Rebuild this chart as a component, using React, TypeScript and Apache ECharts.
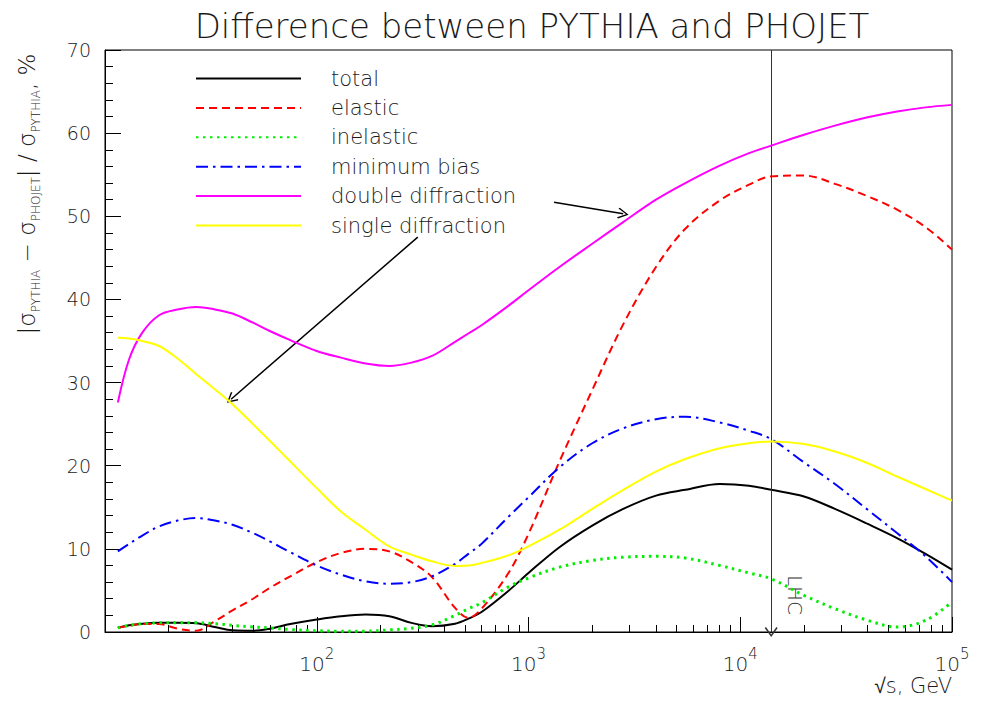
import React, { useEffect, useRef } from "react";
import * as echarts from "echarts";

// sqrt(s) in GeV
const energies = [11.5, 13, 15, 18, 22, 27, 33, 40, 50, 60, 75, 100, 130, 170, 220, 280, 350, 450, 520, 600, 800, 1000, 1400, 2000, 2800, 4000, 5500, 8000, 11000, 14000, 20000, 28000, 40000, 55000, 75000, 100000];

const total = [0.5, 0.8, 1.0, 1.1, 1.1, 1.05, 0.6, 0.2, 0.15, 0.4, 0.95, 1.5, 1.9, 2.1, 1.9, 1.1, 0.7, 1.0, 1.6, 2.4, 4.9, 7.1, 10.2, 12.8, 14.8, 16.4, 17.1, 17.8, 17.6, 17.1, 16.3, 14.8, 13.0, 11.3, 9.4, 7.5];
const elastic = [0.5, 0.75, 0.95, 0.95, 0.4, 0.15, 1.3, 2.6, 4.0, 5.3, 6.7, 8.4, 9.5, 10.0, 9.7, 8.4, 6.6, 2.9, 1.7, 2.8, 7.0, 11.8, 20.5, 29.1, 37.0, 43.9, 48.5, 51.9, 53.8, 54.8, 54.9, 53.9, 52.4, 50.8, 48.7, 46.0];
const inelastic = [0.5, 0.8, 1.0, 1.1, 1.1, 1.1, 1.0, 0.8, 0.6, 0.5, 0.3, 0.15, 0.1, 0.1, 0.25, 0.45, 0.85, 2.0, 2.8, 3.5, 5.4, 6.5, 7.8, 8.6, 9.0, 9.1, 8.9, 8.0, 7.1, 6.4, 4.4, 2.8, 1.4, 0.6, 1.4, 3.6];
const minimumBias = [9.7, 10.6, 11.6, 12.7, 13.4, 13.7, 13.4, 12.9, 11.9, 10.9, 9.6, 8.0, 6.9, 6.1, 5.8, 6.0, 6.7, 8.2, 9.4, 10.6, 13.8, 16.2, 19.8, 22.7, 24.5, 25.6, 25.9, 25.2, 24.2, 23.2, 20.4, 17.8, 14.7, 11.9, 9.1, 6.0];
const doubleDiffraction = [27.6, 32.8, 36.0, 38.1, 38.8, 39.1, 38.8, 38.3, 37.2, 36.2, 35.1, 33.8, 33.0, 32.3, 32.0, 32.4, 33.2, 34.9, 35.9, 36.9, 39.2, 41.1, 43.9, 46.7, 49.3, 52.0, 54.0, 56.1, 57.6, 58.5, 59.8, 60.9, 61.9, 62.6, 63.1, 63.4];
const singleDiffraction = [35.4, 35.3, 35.0, 34.4, 32.9, 31.0, 29.2, 27.4, 25.0, 23.0, 20.5, 17.3, 14.5, 12.3, 10.3, 9.3, 8.5, 7.95, 8.0, 8.3, 9.2, 10.3, 12.3, 14.8, 17.1, 19.3, 20.8, 22.1, 22.7, 22.9, 22.6, 21.7, 20.3, 18.7, 17.2, 15.8];

const seriesNames = ["total", "elastic", "inelastic", "minimum bias", "double diffraction", "single diffraction"];
const yTicks = { min: 0, max: 70, step: 10 };
const xRange = { min: 10, max: 100000 };

// annotations (data coordinates)
const lhcEnergy = 14000;
const arrowToDouble = [[1320, 51.7], [2800, 50.3]];
const arrowToSingle = [[300, 47.5], [39.4, 28.0]];

const FONT = "'DejaVu Sans', 'Noto Sans', sans-serif";
const WEIGHT = 200;
const INK = "#1a1a1a";
const chevron = "path://M5,0L10,9L9,10L5,2.4L1,10L0,9Z";

export default function App() {
  const ref = useRef<HTMLDivElement>(null);

  useEffect(() => {
    const chart = echarts.init(ref.current as HTMLDivElement, null, { renderer: "svg" });

    const values = [total, elastic, inelastic, minimumBias, doubleDiffraction, singleDiffraction];
    const colors = ["#000000", "#ff0000", "#00ee00", "#0000ff", "#ff00ff", "#ffff00"];
    const dashes: any[] = ["solid", [8, 5], [2.5, 4.5], [12, 5, 2.5, 5], "solid", "solid"];
    const widths = [2, 2, 3, 2, 2, 2];

    const series: any[] = values.map((vals, i) => ({
      name: seriesNames[i],
      type: "line",
      data: energies.map((e, k) => [e, vals[k]]),
      symbol: "none",
      smooth: 0.35,
      lineStyle: { color: colors[i], type: dashes[i], width: widths[i], cap: "butt" },
      itemStyle: { color: colors[i] },
      z: 2 + i,
    }));

    series[0].markLine = {
      silent: true,
      animation: false,
      symbolSize: [11, 11],
      label: { show: false },
      lineStyle: { color: "#000", type: "solid", width: 1.5 },
      emphasis: { disabled: true },
      data: [
        [
          { coord: [lhcEnergy, yTicks.max], symbol: "none", lineStyle: { color: "#333", width: 1, type: "solid" } },
          { coord: [lhcEnergy, yTicks.min], symbol: chevron, symbolSize: [13, 10], lineStyle: { color: "#333", width: 1, type: "solid" } },
        ],
        [
          { coord: arrowToDouble[0], symbol: "none" },
          { coord: arrowToDouble[1], symbol: chevron },
        ],
        [
          { coord: arrowToSingle[0], symbol: "none" },
          { coord: arrowToSingle[1], symbol: chevron },
        ],
      ],
    };

    const option: any = {
      animation: false,
      backgroundColor: "#ffffff",
      title: {
        text: "Difference between PYTHIA and PHOJET",
        left: 527,
        top: 4,
        textAlign: "center",
        textStyle: { fontFamily: FONT, fontWeight: WEIGHT, fontSize: 34, color: INK },
      },
      legend: {
        orient: "vertical",
        left: 195,
        top: 68,
        padding: 0,
        itemWidth: 105,
        itemHeight: 14,
        itemGap: 8.4,
        selectedMode: false,
        data: seriesNames,
        itemStyle: { opacity: 0 },
        textStyle: { fontFamily: FONT, fontWeight: WEIGHT, fontSize: 21, color: INK, lineHeight: 20, padding: [0, 0, 0, 25] },
      },
      grid: { left: 105, right: 29, top: 50, bottom: 70, show: true, borderColor: "#000", borderWidth: 1 },
      xAxis: {
        type: "log",
        logBase: 10,
        min: xRange.min,
        max: xRange.max,
        axisLine: { show: true, lineStyle: { color: "#000", width: 1 } },
        axisTick: { show: true, inside: true, length: 15, lineStyle: { color: "#000" } },
        minorTick: { show: true, splitNumber: 9, length: 7, lineStyle: { color: "#000" } },
        splitLine: { show: false },
        axisLabel: {
          margin: 14,
          formatter: (v: number) => {
            const p = Math.round(Math.log10(v));
            return p <= 1 ? "" : `{b|10}{s|${p}}`;
          },
          rich: {
            b: { fontFamily: FONT, fontWeight: WEIGHT, fontSize: 20, color: INK, lineHeight: 28, verticalAlign: "bottom" },
            s: { fontFamily: FONT, fontWeight: WEIGHT, fontSize: 15, color: INK, lineHeight: 15, verticalAlign: "top" },
          },
        },
      },
      yAxis: {
        type: "value",
        min: yTicks.min,
        max: yTicks.max,
        interval: yTicks.step,
        axisLine: { show: true, lineStyle: { color: "#000", width: 1 } },
        axisTick: { show: true, inside: true, length: 16, lineStyle: { color: "#000" } },
        minorTick: { show: true, splitNumber: 5, length: 8, lineStyle: { color: "#000" } },
        splitLine: { show: false },
        axisLabel: { margin: 14, fontFamily: FONT, fontWeight: WEIGHT, fontSize: 19, color: INK },
      },
      graphic: [
        {
          type: "text",
          x: 27,
          y: 194,
          rotation: Math.PI / 2,
          style: {
            text: "{m||σ}{s|PYTHIA}{m| − σ}{s|PHOJET}{m|| / σ}{s|PYTHIA}{m|, %}",
            align: "center",
            verticalAlign: "middle",
            rich: {
              m: { fontFamily: FONT, fontWeight: WEIGHT, fontSize: 23, fill: INK, lineHeight: 30 },
              s: { fontFamily: FONT, fontWeight: WEIGHT, fontSize: 12, fill: INK, lineHeight: 14, verticalAlign: "bottom" },
            },
          },
        },
        {
          type: "text",
          x: 952,
          y: 686,
          style: { text: "√s, GeV", align: "right", verticalAlign: "middle", fontFamily: FONT, fontWeight: WEIGHT, fontSize: 21, fill: INK },
        },
        {
          type: "text",
          x: 795,
          y: 595,
          rotation: -Math.PI / 2,
          style: { text: "LHC", align: "center", verticalAlign: "middle", fontFamily: FONT, fontWeight: WEIGHT, fontSize: 20, fill: "#333" },
        },
      ],
      series,
    };

    chart.setOption(option);
    return () => chart.dispose();
  }, []);

  return <div ref={ref} style={{ position: "fixed", left: 0, top: 0, width: 981, height: 702 }} />;
}
